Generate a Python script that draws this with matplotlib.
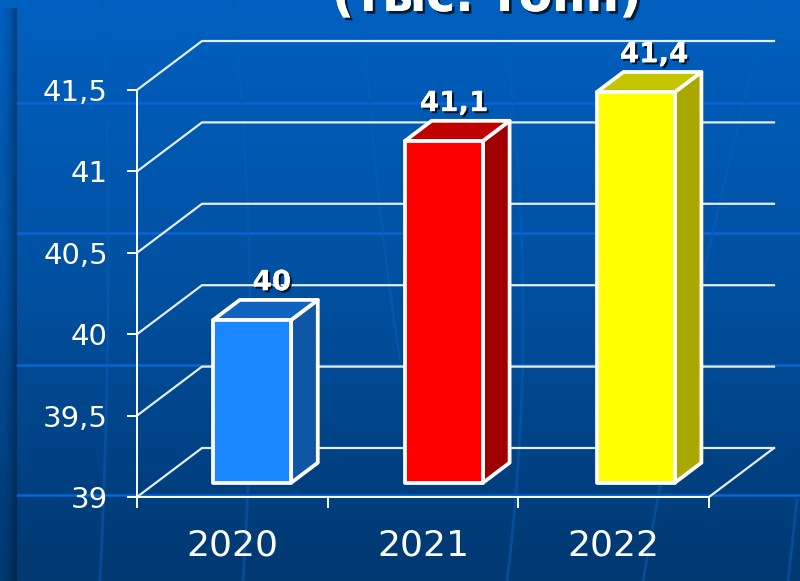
import numpy as np
import matplotlib
matplotlib.use("Agg")
import matplotlib.pyplot as plt
import matplotlib.patheffects as pe
from matplotlib.patches import Polygon

years = ['2020', '2021', '2022']
values = [40, 41.1, 41.4]
value_labels = ['40', '41,1', '41,4']
y_ticks = [39, 39.5, 40, 40.5, 41, 41.5]
y_tick_labels = ['39', '39,5', '40', '40,5', '41', '41,5']
title = '(тыс. тонн)'

front_colors = ['#1a86ff', '#ff0000', '#ffff00']
top_colors = ['#0f62be', '#c00000', '#c4c400']
side_colors = ['#0f57a6', '#a00000', '#a8a800']
label_shift = [-33, -40, -34]

W, H = 800, 581
plt.rcParams['font.family'] = ['DejaVu Sans']
fig = plt.figure(figsize=(W / 100, H / 100), dpi=100)

# background slide, in pixels
bg = fig.add_axes([0, 0, 1, 1])
bg.set_xlim(0, W)
bg.set_ylim(H, 0)
bg.axis('off')
stops = np.array([[0, 96, 192], [0, 80, 160], [0, 56, 112]]) / 255
t = np.linspace(0, 1, 300)
grad = np.stack([np.interp(t, [0, 0.5, 1], stops[:, i]) for i in range(3)], axis=1)
bg.imshow(grad[:, None, :], extent=[0, W, H, 0], aspect='auto', zorder=0)
for yy in [103, 233, 365, 495]:
    bg.plot([17, W], [yy, yy], color='#0a64d2', lw=1.8, zorder=1)
for xs, ys in [([103, 108, 100], [0, 290, 581]),
               ([233, 250, 243], [0, 290, 581]),
               ([363, 390, 400], [0, 290, 360]),
               ([500, 523, 507], [0, 290, 581]),
               ([770, 700, 643], [0, 290, 581]),
               ([797, 788], [500, 581])]:
    c = np.polyfit(ys, xs, len(xs) - 1)
    yy = np.linspace(ys[0], ys[-1], 60)
    bg.plot(np.polyval(c, yy), yy, color='#0a5cb8', lw=2, alpha=0.55, zorder=1)
shade = np.zeros((1, 40, 4))
shade[0, :, 3] = np.linspace(0, 0.6, 40) ** 2
bg.imshow(shade, extent=[0, 17, H, 8], aspect='auto', zorder=2)
bg.set_xlim(0, W)
bg.set_ylim(H, 0)

# chart axes, front plane of the pseudo 3D box
L, R, T, B = 137, 709, 90, 497
ax = fig.add_axes([L / W, 1 - B / H, (R - L) / W, (B - T) / H])
ax.patch.set_alpha(0)
ax.set_xlim(0, 3)
ax.set_ylim(39, 41.5)
for s in ['top', 'right']:
    ax.spines[s].set_visible(False)
for s in ['left', 'bottom']:
    ax.spines[s].set_color('white')
    ax.spines[s].set_linewidth(1.4)

ax.set_yticks(y_ticks)
ax.set_yticklabels(y_tick_labels, fontsize=21, color='white')
ax.set_xticks([0, 1, 2, 3])
ax.set_xticklabels([])
ax.set_xticks([0.5, 1.5, 2.5], labels=years, minor=True)
ax.tick_params(axis='y', length=7, width=1.4, color='white', pad=14)
ax.tick_params(axis='x', which='major', length=8, width=1.4, color='white')
ax.tick_params(axis='x', which='minor', length=0, pad=23, labelsize=26, labelcolor='white')

# oblique depth of the box, in data units
DX = 65 / ((R - L) / 3)
DY = 49 / ((B - T) / 2.5)


def proj(x, y, d):
    return x + d * DX, y + d * DY


for v in y_ticks:
    ax.plot(*zip(proj(0, v, 0), proj(0, v, 1), proj(3, v, 1)), color='#e4ecf6', lw=1.6,
            clip_on=False, zorder=2, solid_joinstyle='miter')
ax.plot(*zip(proj(3, 39, 0), proj(3, 39, 1)), color='#e4ecf6', lw=1.6, clip_on=False, zorder=2)

# bars
bar_w = 78 / ((R - L) / 3)
d0, d1 = 0.29, 0.70
centers = 0.505 + np.arange(len(values)) * 1.006
for x, v, lab, dx, fc, tc, sc in zip(centers, values, value_labels, label_shift,
                                     front_colors, top_colors, side_colors):
    x0, x1 = x - bar_w / 2, x + bar_w / 2
    front = [proj(x0, 39, d0), proj(x1, 39, d0), proj(x1, v, d0), proj(x0, v, d0)]
    top = [proj(x0, v, d0), proj(x1, v, d0), proj(x1, v, d1), proj(x0, v, d1)]
    side = [proj(x1, 39, d0), proj(x1, 39, d1), proj(x1, v, d1), proj(x1, v, d0)]
    for pts, col in [(side, sc), (top, tc), (front, fc)]:
        ax.add_patch(Polygon(pts, closed=True, facecolor=col, edgecolor='white', lw=2.7,
                             joinstyle='round', clip_on=False, zorder=3))
    ax.annotate(lab, xy=proj(x1, v, d1), xytext=(dx, 7), textcoords='offset points',
                ha='center', va='baseline', fontsize=20, fontweight='bold', color='white',
                annotation_clip=False, zorder=5,
                path_effects=[pe.withSimplePatchShadow(offset=(1.5, -1.5), shadow_rgbFace='black', alpha=0.8),
                              pe.Normal()])

bg.text(487, 11, title, ha='center', va='baseline', fontsize=35, fontweight='bold', color='white',
        zorder=6, clip_on=False,
        path_effects=[pe.withSimplePatchShadow(offset=(2, -2), shadow_rgbFace='black', alpha=0.7), pe.Normal()])

fig.savefig('out.png', dpi=100)
